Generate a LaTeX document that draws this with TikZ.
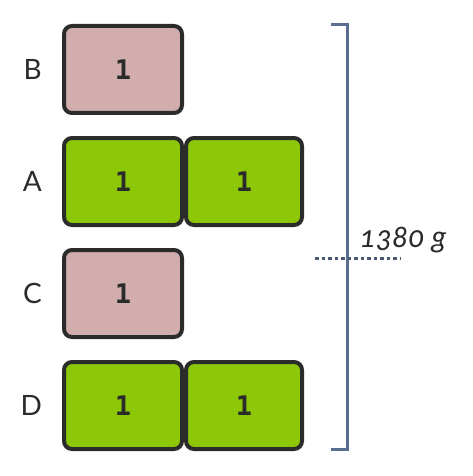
\documentclass[tikz,border=0pt]{standalone}
\usepackage{fontspec}
\setmainfont{Lato}
\newfontfamily\boxfont{DejaVu Sans Mono}
\newfontfamily\massfont[Numbers=OldStyle]{Lato}
\usetikzlibrary{positioning}

\definecolor{boxpink}{HTML}{D2ADAD}
\definecolor{boxgreen}{HTML}{8CC808}
\definecolor{edgegrey}{HTML}{2B2B2B}
\definecolor{slate}{HTML}{5A6F8F}

\tikzset{
    unit/.style={draw=edgegrey, line width=4pt, rounded corners=8pt, minimum width=118pt, minimum height=87pt, inner sep=0pt, text=edgegrey, font=\boxfont\bfseries\fontsize{27}{27}\selectfont},
    pinkunit/.style={unit, fill=boxpink},
    greenunit/.style={unit, fill=boxgreen},
    rowname/.style={inner sep=0pt, text=edgegrey, font=\fontsize{28}{28}\selectfont}
}

\begin{document}
\begin{tikzpicture}[x=1pt,y=-1pt]
                \useasboundingbox (0,0) rectangle (473,476);
                \node[pinkunit] (b1) at (123,69.5) {1};
                \node[greenunit, below=21pt of b1] (a1) {1};
                \node[greenunit, right=0pt of a1, minimum width=116pt] (a2) {1};
                \node[pinkunit, below=21pt of a1] (c1) {1};
                \node[greenunit, below=21pt of c1] (d1) {1};
                \node[greenunit, right=0pt of d1, minimum width=116pt] (d2) {1};
                \node[rowname, left=20pt of b1] (lb) {B};
                \node[rowname, left=20pt of a1] (la) {A};
                \node[rowname, left=20pt of c1] (lc) {C};
                \node[rowname, left=20pt of d1] (ld) {D};
                % bracket with total mass
                \coordinate (bt) at (331,25);
                \coordinate (bb) at (331,449);
                \draw[slate, line width=3pt] (bt) -- (347,25) -- (347,449) -- (bb);
                \draw[slate!80!black, line width=3pt, dash pattern=on 3.5pt off 3pt] (315,258) -- (400,258);
                \node[text=edgegrey, font=\massfont\itshape\fontsize{30}{30}\selectfont] (mass) at (403,240) {1380 g};
            \end{tikzpicture}
\end{document}
